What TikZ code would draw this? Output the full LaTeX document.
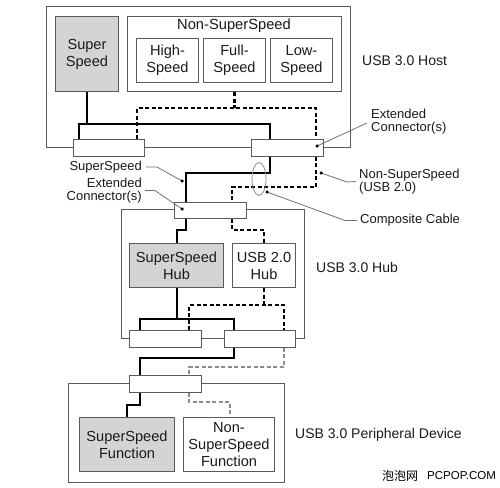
\documentclass[tikz,border=0pt]{standalone}
\usepackage{fontspec}
\setmainfont{Liberation Sans}
\newfontfamily\cjk{Noto Sans CJK SC}
\usetikzlibrary{backgrounds,shapes.geometric}
\definecolor{bordergray}{HTML}{5A5A5A}
\definecolor{boxgray}{HTML}{D4D4D4}
\definecolor{leadgray}{HTML}{707070}
\definecolor{dashgray}{HTML}{8C8C8C}
\definecolor{textcol}{HTML}{1A1A1A}
\begin{document}
\begin{tikzpicture}[x=1pt,y=-1pt,
 box/.style={draw=bordergray, line width=1pt, fill=white, anchor=north west, inner sep=0pt, align=center, font=\fontsize{14.6}{17}\selectfont, text=textcol},
 gbox/.style={box, fill=boxgray},
 outer/.style={box, fill=none},
 conn/.style={draw=bordergray, line width=0.9pt, fill=white, anchor=north west, inner sep=0pt, minimum height=17pt},
 ssline/.style={line width=2.6pt, draw=black},
 nsline/.style={line width=2.6pt, draw=black, dash pattern=on 4pt off 2.5pt},
 gnsline/.style={nsline, draw=dashgray},
 lead/.style={draw=leadgray, line width=0.8pt},
 lbl/.style={font=\fontsize{13}{13}\selectfont, text=textcol, inner sep=0pt},
 big/.style={font=\fontsize{14}{16}\selectfont, text=textcol, inner sep=0pt, anchor=west},
 dotc/.style={circle, fill=black, inner sep=0pt, minimum size=3.5pt}
]
\useasboundingbox (0,0) rectangle (500,487);

% ---------- Host ----------
\node[outer, minimum width=304pt, minimum height=141pt] (host) at (46,6) {};
\node[gbox, minimum width=63pt, minimum height=75pt] (ss) at (55,16) {Super\\Speed};
\node[box, minimum width=214pt, minimum height=75pt] (nss) at (127,16) {};
\node[big, anchor=center, font=\fontsize{14.7}{16}\selectfont] (nsslbl) at (234,26) {Non-SuperSpeed};
\node[box, minimum width=62pt, minimum height=44pt] (hs) at (136,38) {High-\\Speed};
\node[box, minimum width=62pt, minimum height=44pt] (fs) at (203,38) {Full-\\Speed};
\node[box, minimum width=62pt, minimum height=44pt] (ls) at (270,38) {Low-\\Speed};
\node[big] (hostlbl) at (362,61) {USB 3.0 Host};
\node[conn, minimum width=71pt] (hc1) at (73,139) {};
\node[conn, minimum width=72pt] (hc2) at (251,139) {};

% ---------- Hub ----------
\node[outer, minimum width=183pt, minimum height=129pt] (hub) at (121,209) {};
\node[conn, minimum width=72pt, minimum height=16pt] (hubc) at (174,202) {};
\node[gbox, minimum width=94pt, minimum height=44pt] (sshub) at (129,243) {SuperSpeed\\Hub};
\node[box, minimum width=63pt, minimum height=44pt] (u2hub) at (232,243) {USB 2.0\\Hub};
\node[big] (hublbl) at (316,267) {USB 3.0 Hub};
\node[conn, minimum width=72pt] (hl1) at (129,330) {};
\node[conn, minimum width=71pt] (hl2) at (224,330) {};

% ---------- Device ----------
\node[outer, minimum width=216pt, minimum height=99pt] (dev) at (68,383) {};
\node[conn, minimum width=72pt] (dc) at (129,375) {};
\node[gbox, minimum width=95pt, minimum height=54pt] (ssf) at (79,417) {SuperSpeed\\Function};
\node[box, minimum width=91pt, minimum height=54pt] (nssf) at (183,417) {Non-\\SuperSpeed\\Function};
\node[big] (devlbl) at (295,435) {USB 3.0 Peripheral Device};

% ---------- lines (behind connectors) ----------
\begin{pgfonlayer}{background}
 \draw[ssline] (ss.south) -- (ss.south |- 0,124);
 \draw[ssline] (hc1.north -| 79,0) -- (79,124) -- (270,124) -- (hc2.north -| 270,0);
 \draw[nsline] (nss.south) -- (nss.south |- 0,108);
 \draw[nsline] (hc1.north -| 137,0) -- (137,108) -- (316,108) -- (hc2.north -| 316,0);
 \draw[ssline] (hc2.south -| 270,0) -- (270,173) -- (186,173) -- (hubc.north -| 186,0);
 \draw[nsline] (hc2.south -| 316,0) -- (316,187) -- (232,187) -- (hubc.north -| 232,0);
 \draw[ssline] (hubc.south -| 186,0) -- (186,230) -- (177,230) -- (sshub.north -| 177,0);
 \draw[nsline] (hubc.south -| 232,0) -- (232,230) -- (264,230) -- (u2hub.north -| 264,0);
 \draw[ssline] (sshub.south -| 177,0) -- (177,319);
 \draw[ssline] (hl1.north -| 140,0) -- (140,319) -- (234,319) -- (hl2.north -| 234,0);
 \draw[nsline] (u2hub.south -| 264,0) -- (264,305);
 \draw[nsline] (hl1.north -| 189,0) -- (189,305) -- (284,305) -- (hl2.north -| 284,0);
 \draw[ssline] (hl2.south -| 234,0) -- (234,358) -- (140,358) -- (dc.north -| 140,0);
 \draw[gnsline] (hl2.south -| 284,0) -- (284,367) -- (189,367) -- (dc.north -| 189,0);
 \draw[ssline] (dc.south -| 140,0) -- (140,405) -- (127,405) -- (ssf.north -| 127,0);
 \draw[gnsline] (dc.south -| 189,0) -- (189,402) -- (230,402) -- (nssf.north -| 230,0);
\end{pgfonlayer}

% ---------- labels and leaders ----------
\node[lbl, anchor=west, align=left] (ecr) at (371,122) {Extended\\Connector(s)};
\coordinate (d1) at (317,146);
\draw[lead] (d1) -- (367,123);
\node[dotc] at (d1) {};

\node[lbl, anchor=east] (sslbl) at (142,167) {SuperSpeed};
\coordinate (d2) at (182,181);
\draw[lead] ([xshift=4pt]sslbl.east) -- (157,167) -- (d2);
\node[dotc] at (d2) {};

\node[lbl, anchor=east, align=right] (ecl) at (142,190.5) {Extended\\Connector(s)};
\coordinate (d3) at (182,209);
\draw[lead] ([xshift=3pt]ecl.east) -- (155,190.5) -- (d3);
\node[dotc] at (d3) {};

\node[lbl, anchor=west, align=left] (nsl) at (359,181.5) {Non-SuperSpeed\\(USB 2.0)};
\coordinate (d4) at (321,173);
\draw[lead] (d4) -- (347,182) -- ([xshift=-3pt]nsl.west);
\node[dotc] at (d4) {};

\node[draw=dashgray, line width=0.8pt, ellipse, minimum width=14pt, minimum height=33pt, inner sep=0pt] (cable) at (259,179) {};
\node[lbl, anchor=west] (ccl) at (360,220.5) {Composite Cable};
\coordinate (d5) at (267,192);
\draw[lead] (d5) -- (345,220.5) -- ([xshift=-3pt]ccl.west);
\node[dotc] at (d5) {};

% ---------- watermark ----------
\node[inner sep=0pt, anchor=west, font=\fontsize{12}{12}\selectfont] (wm1) at (382,476) {\cjk 泡泡网};
\node[inner sep=0pt, anchor=west, font=\fontsize{11.5}{12}\selectfont, text=black] (wm2) at (427,476) {PCPOP.COM};
\end{tikzpicture}
\end{document}
